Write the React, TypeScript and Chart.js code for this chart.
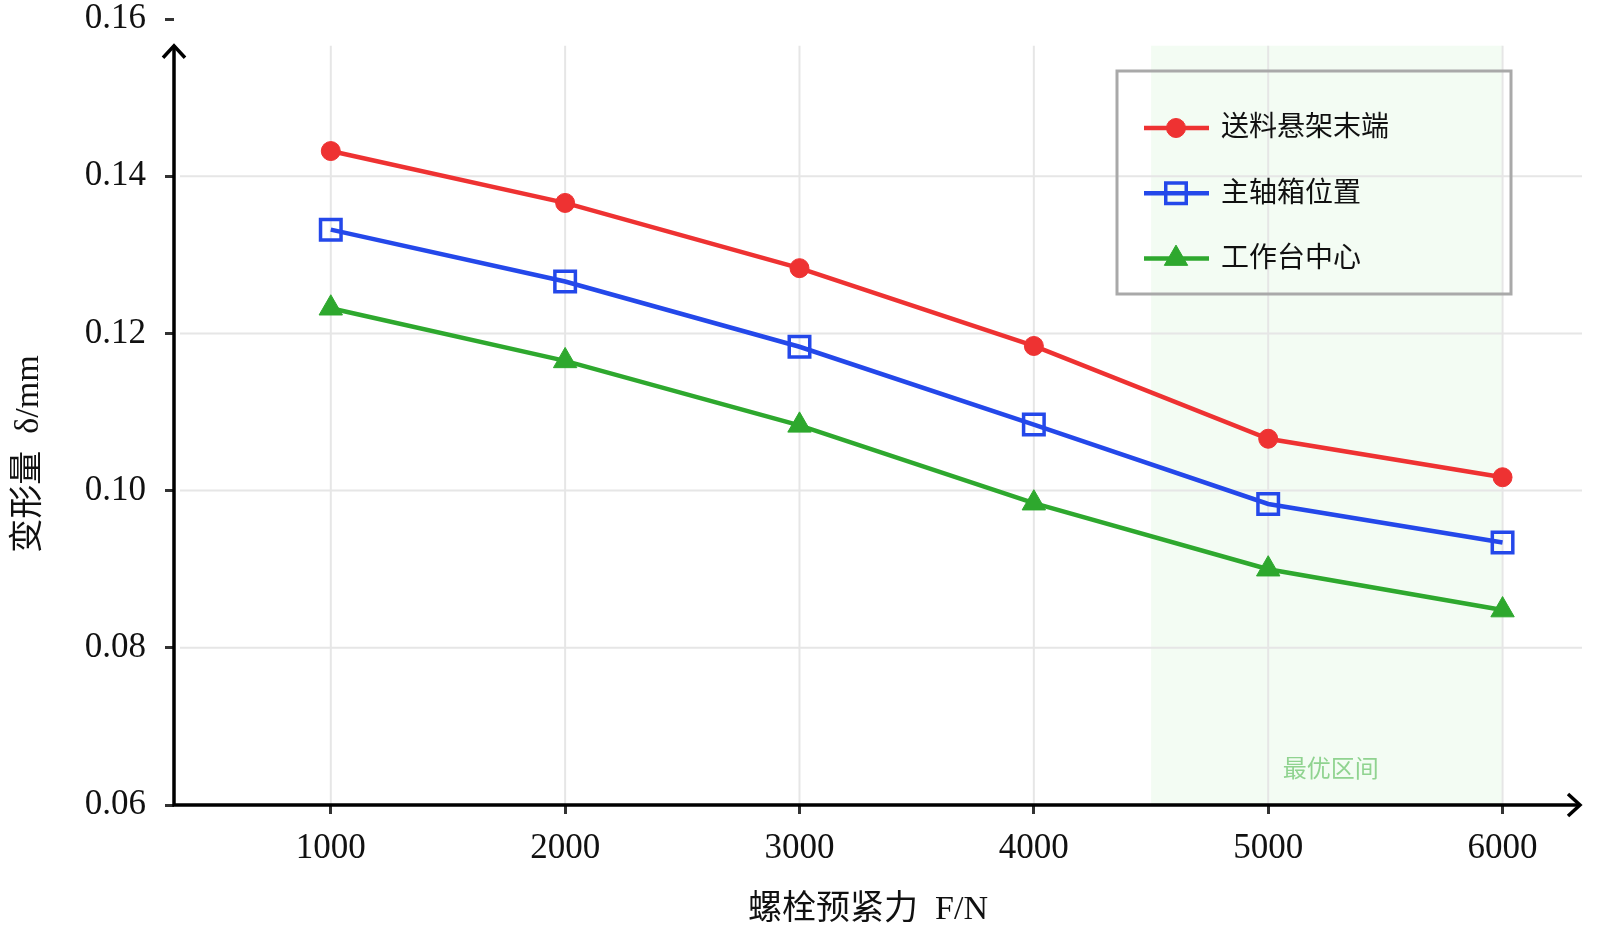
import { useEffect, useRef } from "react"
import { Chart, registerables } from "chart.js"
import { drawPoint } from "chart.js/helpers"

Chart.register(...registerables)

// data
const forces = [1000, 2000, 3000, 4000, 5000, 6000]
const feedEnd = [0.1432, 0.1366, 0.1283, 0.1184, 0.1066, 0.1017]
const spindleBox = [0.1332, 0.1266, 0.1183, 0.1084, 0.0983, 0.0934]
const tableCenter = [0.1232, 0.1165, 0.1083, 0.0984, 0.09, 0.0848]
const seriesNames = ["送料悬架末端", "主轴箱位置", "工作台中心"]
const yTicks = [0.06, 0.08, 0.1, 0.12, 0.14, 0.16]
const yGridValues = [0.08, 0.1, 0.12, 0.14]
const optimalRange = [4500, 6000]
const optimalLabel = "最优区间"
const xTitle = "螺栓预紧力  F/N"
const yTitle = "变形量  δ/mm"
const axisTopValue = 0.1566

const SERIF = '"Liberation Serif", "Times New Roman", "Noto Sans CJK SC", serif'
const CJK = '"Liberation Serif", "Noto Sans CJK SC", serif'

const decorPlugin = {
  id: "decor",
  beforeDatasetsDraw(chart: any) {
    const { ctx, chartArea, scales } = chart
    const { x, y } = scales
    const top = y.getPixelForValue(axisTopValue)
    const bottom = chartArea.bottom
    ctx.save()
    // optimal range band
    const sx0 = x.getPixelForValue(optimalRange[0])
    const sx1 = x.getPixelForValue(optimalRange[1])
    ctx.fillStyle = "rgba(200, 240, 200, 0.22)"
    ctx.fillRect(sx0, top, sx1 - sx0, bottom - top)

    // grid
    ctx.strokeStyle = "#e6e6e6"
    ctx.lineWidth = 2
    yGridValues.forEach((v) => {
      const py = y.getPixelForValue(v)
      ctx.beginPath()
      ctx.moveTo(chartArea.left + 6, py)
      ctx.lineTo(chartArea.right, py)
      ctx.stroke()
    })
    forces.forEach((v) => {
      const px = x.getPixelForValue(v)
      ctx.beginPath()
      ctx.moveTo(px, top)
      ctx.lineTo(px, bottom)
      ctx.stroke()
    })

    ctx.fillStyle = "rgba(105, 195, 105, 0.72)"
    ctx.font = '24px "Noto Sans CJK SC", sans-serif'
    ctx.textAlign = "center"
    ctx.textBaseline = "middle"
    ctx.fillText(optimalLabel, (sx0 + sx1) / 2 + 4, bottom - 37)
    ctx.restore()
  },
  afterDraw(chart: any) {
    const { ctx, chartArea, scales } = chart
    const { y } = scales
    const { left, right, bottom } = chartArea
    const top = y.getPixelForValue(axisTopValue)
    ctx.save()

    // axes with arrow heads
    ctx.strokeStyle = "#000"
    ctx.lineWidth = 3.5
    ctx.lineCap = "butt"
    ctx.beginPath()
    ctx.moveTo(left, bottom + 1.5)
    ctx.lineTo(left, top)
    ctx.moveTo(left - 1.5, bottom)
    ctx.lineTo(right - 2, bottom)
    ctx.stroke()
    ctx.lineJoin = "miter"
    ctx.beginPath()
    ctx.moveTo(left - 11, top + 12)
    ctx.lineTo(left, top)
    ctx.lineTo(left + 11, top + 12)
    ctx.moveTo(right - 14, bottom - 11)
    ctx.lineTo(right - 2, bottom)
    ctx.lineTo(right - 14, bottom + 11)
    ctx.stroke()

    // axis titles
    ctx.fillStyle = "#111"
    ctx.font = `34px ${CJK}`
    ctx.textAlign = "center"
    ctx.textBaseline = "middle"
    ctx.fillText(xTitle, 868, 910)
    ctx.save()
    ctx.translate(29, 454)
    ctx.rotate(-Math.PI / 2)
    ctx.fillText(yTitle, 0, 0)
    ctx.restore()

    // legend
    const bx = 1117
    const by = 71
    ctx.strokeStyle = "#a9a9a9"
    ctx.lineWidth = 3
    ctx.strokeRect(bx, by, 394, 223)
    chart.data.datasets.forEach((ds: any, i: number) => {
      const ly = by + 57 + i * 65.3
      ctx.strokeStyle = ds.borderColor
      ctx.lineWidth = 4.5
      ctx.beginPath()
      ctx.moveTo(bx + 27, ly)
      ctx.lineTo(bx + 92, ly)
      ctx.stroke()
      ctx.fillStyle = ds.pointBackgroundColor
      ctx.strokeStyle = ds.borderColor
      ctx.lineWidth = ds.pointBorderWidth
      drawPoint(ctx, { pointStyle: ds.pointStyle, radius: ds.pointRadius, rotation: 0, borderWidth: ds.pointBorderWidth }, bx + 59, ly)
      ctx.fillStyle = "#111"
      ctx.font = `28px ${CJK}`
      ctx.textAlign = "left"
      ctx.textBaseline = "middle"
      ctx.fillText(ds.label, bx + 104, ly + 1)
    })
    ctx.restore()
  },
}

function toPoints(values: number[]) {
  return values.map((v, i) => ({ x: forces[i], y: v }))
}

export default function App() {
  const canvasRef = useRef<HTMLCanvasElement>(null)
  const chartInstance = useRef<Chart | null>(null)

  useEffect(() => {
    if (!canvasRef.current) return
    if (chartInstance.current) chartInstance.current.destroy()

    chartInstance.current = new Chart(canvasRef.current, {
      type: "line",
      data: {
        datasets: [
          {
            label: seriesNames[0],
            data: toPoints(feedEnd),
            borderColor: "#ee3232",
            backgroundColor: "#ee3232",
            pointBackgroundColor: "#ee3232",
            pointStyle: "circle",
            pointRadius: 9.5,
            pointBorderWidth: 1,
            borderWidth: 4.5,
          },
          {
            label: seriesNames[1],
            data: toPoints(spindleBox),
            borderColor: "#2448ea",
            backgroundColor: "rgba(0,0,0,0)",
            pointBackgroundColor: "rgba(0,0,0,0)",
            pointStyle: "rect",
            pointRadius: 14.5,
            pointBorderWidth: 3.5,
            borderWidth: 4.5,
          },
          {
            label: seriesNames[2],
            data: toPoints(tableCenter),
            borderColor: "#2ea82e",
            backgroundColor: "#2ea82e",
            pointBackgroundColor: "#2ea82e",
            pointStyle: "triangle",
            pointRadius: 13.5,
            pointBorderWidth: 1,
            borderWidth: 4.5,
          },
        ] as any,
      },
      options: {
        animation: false,
        responsive: true,
        maintainAspectRatio: false,
        layout: { padding: { top: 19, right: 10, left: 0, bottom: 0 } },
        plugins: {
          legend: { display: false },
          tooltip: { enabled: false },
        },
        scales: {
          x: {
            type: "linear",
            min: 331,
            max: 6339,
            afterBuildTicks: (scale: any) => {
              scale.ticks = forces.map((v) => ({ value: v }))
            },
            afterFit: (scale: any) => {
              scale.height = 126
              scale.paddingLeft = 0
              scale.paddingRight = 0
            },
            border: { display: false },
            grid: { display: true, drawOnChartArea: false, drawTicks: true, tickLength: 9, color: "#333", lineWidth: 3 },
            ticks: {
              padding: 17,
              color: "#111",
              maxRotation: 0,
              font: { family: SERIF, size: 35, lineHeight: 1 },
              callback: (v: any) => String(v),
            },
          },
          y: {
            type: "linear",
            min: 0.06,
            max: 0.16,
            afterBuildTicks: (scale: any) => {
              scale.ticks = yTicks.map((v) => ({ value: v }))
            },
            afterFit: (scale: any) => {
              scale.width = 174
              scale.paddingTop = 0
              scale.paddingBottom = 0
            },
            border: { display: false },
            grid: { display: true, drawOnChartArea: false, drawTicks: true, tickLength: 9, color: "#333", lineWidth: 3 },
            ticks: {
              padding: 19,
              color: "#111",
              font: { family: SERIF, size: 35, lineHeight: 1 },
              callback: (v: any) => Number(v).toFixed(2),
            },
          },
        },
      },
      plugins: [decorPlugin],
    })

    return () => {
      if (chartInstance.current) {
        chartInstance.current.destroy()
        chartInstance.current = null
      }
    }
  }, [])

  return (
    <div style={{ position: "absolute", left: 0, top: 0, width: 1600, height: 931, background: "#fff" }}>
      <canvas ref={canvasRef} />
    </div>
  )
}
